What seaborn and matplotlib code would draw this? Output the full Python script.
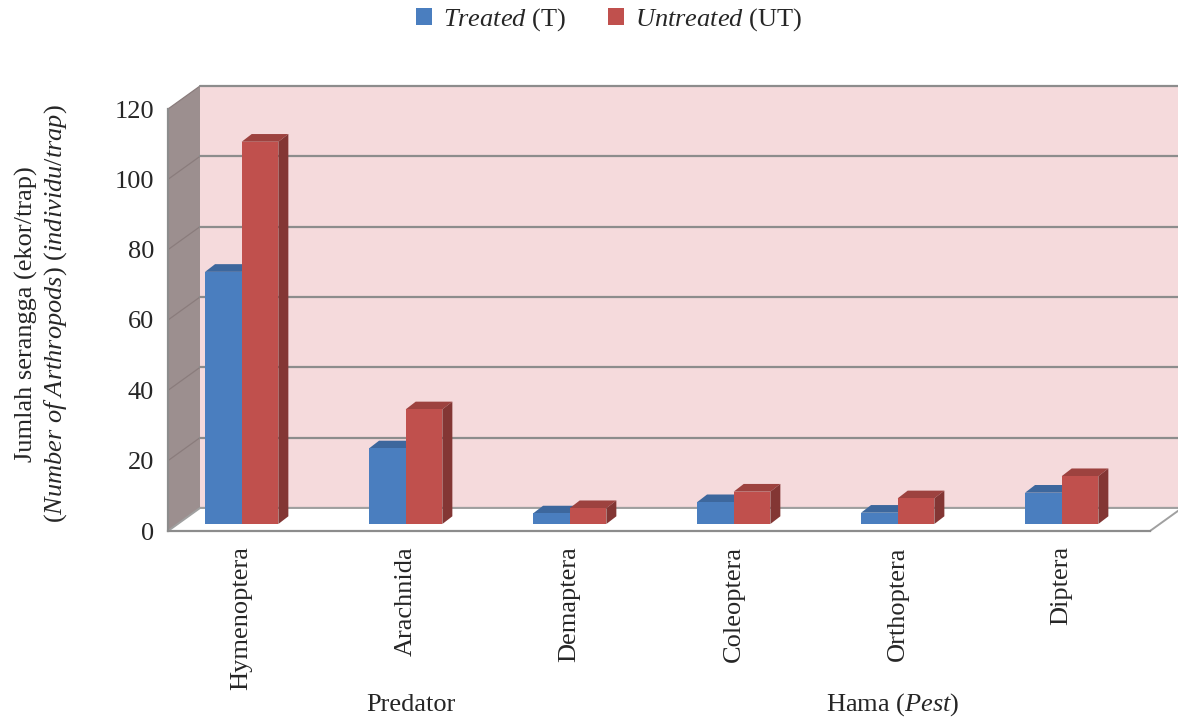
import matplotlib
matplotlib.use("Agg")
import matplotlib.pyplot as plt
import matplotlib.colors as mcolors
from matplotlib.patches import Polygon, Patch
import pandas as pd
import seaborn as sns

# Data (individuals per trap)
categories = ["Hymenoptera", "Arachnida", "Demaptera", "Coleoptera", "Orthoptera", "Diptera"]
treated = [71.7, 21.5, 3.0, 6.2, 3.2, 8.9]
untreated = [108.7, 32.6, 4.5, 9.2, 7.3, 13.6]
groups = ["Treated", "Untreated"]
group_labels = [r"$\mathit{Treated}$ (T)", r"$\mathit{Untreated}$ (UT)"]
yticks = [0, 20, 40, 60, 80, 100, 120]

palette = {"Treated": "#4A7EBF", "Untreated": "#C0504D"}

sns.set_style("white")
plt.rcParams["font.family"] = ["Liberation Serif", "DejaVu Serif"]
plt.rcParams["mathtext.fontset"] = "custom"
plt.rcParams["mathtext.rm"] = "Liberation Serif"
plt.rcParams["mathtext.it"] = "Liberation Serif:italic"

W, H = 1178, 720
FS = 19
GRID = "#8C8C8C"
fig = plt.figure(figsize=(W / 100, H / 100), dpi=100)

# front plane: axis line, ticks, walls
ax = fig.add_axes([168 / W, 1 - 531 / H, 982 / W, 422 / H])
ncat = len(categories)
ymax = yticks[-1]
ax.set_xlim(0, ncat)
ax.set_ylim(0, ymax)
ax.patch.set_alpha(0)

dx = 32 / (982 / ncat)        # depth shift of back wall, data units
dy = 23 / (422 / ymax)
right = ncat + dx + 0.3

ax.add_patch(Polygon([(dx, dy), (right, dy), (right, ymax + dy), (dx, ymax + dy)],
                     closed=True, fc="#F5DADC", ec="none", zorder=0, clip_on=False))
for v in yticks:
    ax.plot([dx, right], [v + dy, v + dy], color=GRID, lw=1.6, zorder=0.2, clip_on=False)

ax.add_patch(Polygon([(0, 0), (dx, dy), (dx, ymax + dy), (0, ymax)],
                     closed=True, fc="#9C8F8F", ec="none", zorder=0.1, clip_on=False))
for v in yticks[1:]:
    ax.plot([0, dx], [v, v + dy], color="#8A7C7C", lw=0.9, zorder=0.15, clip_on=False)

ax.add_patch(Polygon([(0, 0), (ncat, 0), (ncat + dx, dy), (dx, dy)],
                     closed=True, fc="white", ec="#A0A0A0", lw=1.4, zorder=0.3, clip_on=False))

for side in ["top", "right"]:
    ax.spines[side].set_visible(False)
for side in ["left", "bottom"]:
    ax.spines[side].set_color(GRID)
    ax.spines[side].set_linewidth(1.6)
ax.set_yticks(yticks)
ax.set_xticks(range(ncat + 1))
ax.set_xticklabels([])
ax.tick_params(axis="y", direction="out", length=6, width=1.4, color=GRID, labelsize=FS, pad=4)
ax.tick_params(axis="x", direction="out", length=5, width=1.4, color=GRID)

# bars, drawn on a plane a little behind the front edge
df = pd.DataFrame({
    "category": categories * 2,
    "group": [groups[0]] * ncat + [groups[1]] * ncat,
    "value": treated + untreated,
})
ax2 = fig.add_axes([159.7 / W, 1 - 524 / H, 984 / W, 422 / H])
sns.barplot(data=df, x="category", y="value", hue="group", order=categories, hue_order=groups,
            palette=palette, width=0.447, saturation=1, edgecolor="none", linewidth=0,
            legend=False, ax=ax2)
ax2.set_xlim(-0.5, ncat - 0.5)
ax2.set_ylim(0, ymax)
ax2.patch.set_alpha(0)
for s in ax2.spines.values():
    s.set_visible(False)
ax2.set_yticks([])
ax2.set_xlabel("")
ax2.set_ylabel("")
ax2.tick_params(axis="x", length=0, pad=16, labelsize=FS, labelrotation=90)

ddx = 10 / 164
ddy = 7.7 / (422 / ymax)


def shade(c, f):
    r, g, b, _ = mcolors.to_rgba(c)
    return (r * f, g * f, b * f)


for bar in list(ax2.patches):
    x, w, h = bar.get_x(), bar.get_width(), bar.get_height()
    fc = bar.get_facecolor()
    ax2.add_patch(Polygon([(x, h), (x + w, h), (x + w + ddx, h + ddy), (x + ddx, h + ddy)],
                          closed=True, fc=shade(fc, 0.82), ec="none", zorder=0.9))
    ax2.add_patch(Polygon([(x + w, 0), (x + w + ddx, ddy), (x + w + ddx, h + ddy), (x + w, h)],
                          closed=True, fc=shade(fc, 0.68), ec="none", zorder=0.9))

# axis title and group names
fig.text(42 / W, 1 - 314 / H,
         "Jumlah serangga (ekor/trap)\n($\\mathit{Number\\ of\\ Arthropods}$) ($\\mathit{individu/trap}$)",
         rotation=90, ha="center", va="center", fontsize=FS, linespacing=1.25)
fig.text(411 / W, 1 - 705 / H, "Predator", ha="center", va="center", fontsize=FS)
fig.text(893 / W, 1 - 705 / H, "Hama ($\\mathit{Pest}$)", ha="center", va="center", fontsize=FS)

handles = [Patch(fc=palette[g], ec="none") for g in groups]
fig.legend(handles, group_labels, loc="center", bbox_to_anchor=(609 / W, 1 - 20 / H), ncol=2,
           frameon=False, fontsize=FS, handlelength=0.6, handleheight=0.6,
           handletextpad=0.4, columnspacing=1.6)

fig.savefig("out.png", dpi=100)
